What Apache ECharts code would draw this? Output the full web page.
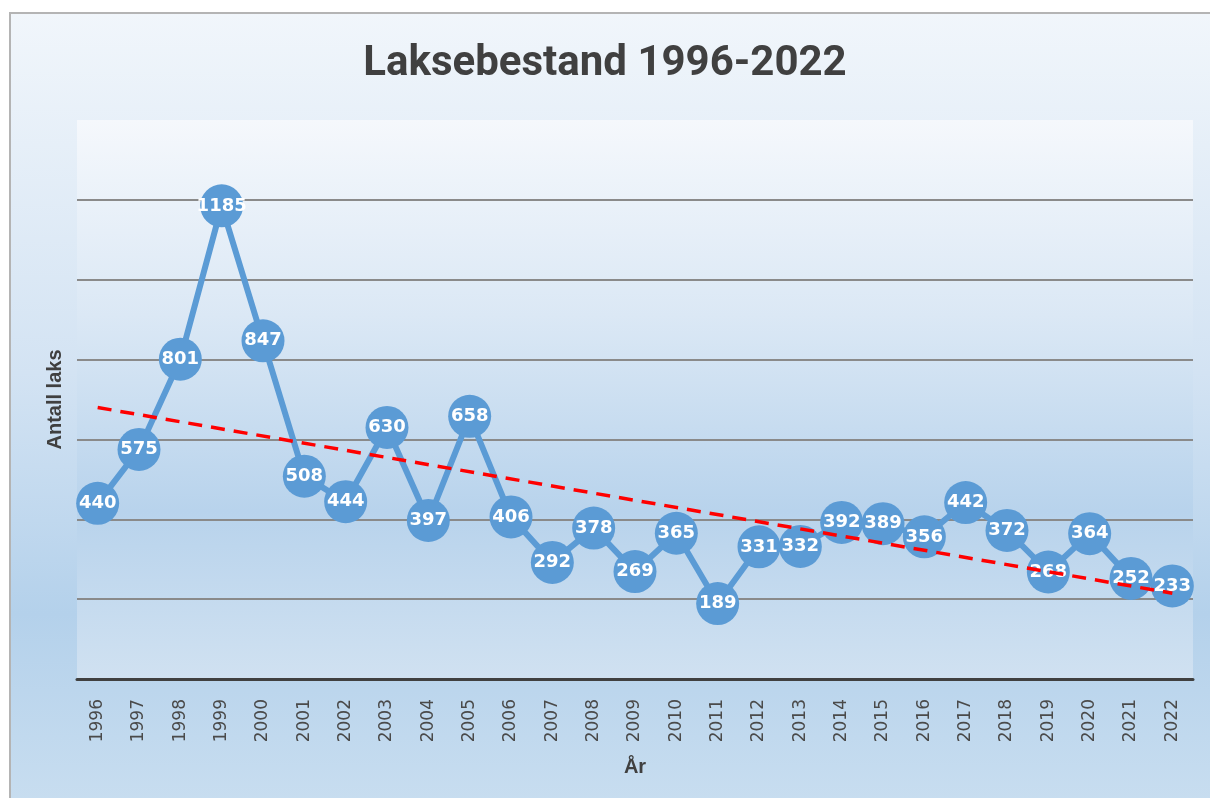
<!DOCTYPE html>
<html>
<head>
<meta charset="utf-8">
<script src="https://cdn.jsdelivr.net/npm/echarts@6/dist/echarts.min.js"></script>
<style>
  html, body { margin: 0; padding: 0; background: #fff; }
  #chart { width: 1210px; height: 798px; }
</style>
</head>
<body>
<div id="chart"></div>
<script>
// Data
const years = ['1996', '1997', '1998', '1999', '2000', '2001', '2002', '2003', '2004',
    '2005', '2006', '2007', '2008', '2009', '2010', '2011', '2012', '2013', '2014',
    '2015', '2016', '2017', '2018', '2019', '2020', '2021', '2022'];
const antallLaks = [440, 575, 801, 1185, 847, 508, 444, 630, 397, 658, 406, 292, 378,
    269, 365, 189, 331, 332, 392, 389, 356, 442, 372, 268, 364, 252, 233];
// trend line end points (first and last year)
const trendStart = 680;
const trendEnd = 215;

let trendData = years.map(function () { return null; });
trendData[0] = trendStart;
trendData[years.length - 1] = trendEnd;

const chart = echarts.init(document.getElementById('chart'));

let option = {
    animation: false,
    backgroundColor: '#ffffff',
    graphic: [
        {
            type: 'rect',
            z: -10,
            shape: { x: 10, y: 13, width: 1210, height: 800 },
            style: {
                fill: new echarts.graphic.LinearGradient(0, 0, 0, 1, [
                    { offset: 0, color: '#f1f6fb' },
                    { offset: 0.45, color: '#d3e3f3' },
                    { offset: 0.75, color: '#b4d1eb' },
                    { offset: 1, color: '#c9def0' }
                ]),
                stroke: '#b4b4b4',
                lineWidth: 2
            }
        }
    ],
    title: {
        text: 'Laksebestand 1996-2022',
        left: 'center',
        top: 38,
        textStyle: {
            fontFamily: 'Roboto',
            fontWeight: 'bold',
            fontSize: 42,
            color: '#404040'
        }
    },
    grid: {
        left: 77,
        right: 17,
        top: 120,
        bottom: 119,
        show: true,
        borderWidth: 0,
        backgroundColor: new echarts.graphic.LinearGradient(0, 0, 0, 1, [
            { offset: 0, color: '#f5f8fc' },
            { offset: 0.35, color: '#dbe8f5' },
            { offset: 0.7, color: '#b8d3ec' },
            { offset: 1, color: '#d0e1f1' }
        ])
    },
    xAxis: {
        type: 'category',
        data: years,
        name: 'År',
        nameLocation: 'middle',
        nameGap: 78,
        nameTextStyle: {
            fontFamily: 'Liberation Sans',
            fontWeight: 'bold',
            fontSize: 20,
            color: '#404040'
        },
        axisTick: { show: false },
        axisLine: { lineStyle: { color: '#404040', width: 3 } },
        axisLabel: {
            rotate: 90,
            margin: 20,
            fontFamily: 'DejaVu Sans',
            fontSize: 17,
            color: '#4a4a4a'
        }
    },
    yAxis: {
        type: 'value',
        min: 0,
        max: 1400,
        interval: 200,
        name: 'Antall laks',
        nameLocation: 'middle',
        nameGap: 12,
        nameTextStyle: {
            fontFamily: 'Liberation Sans',
            fontWeight: 'bold',
            fontSize: 20,
            color: '#404040'
        },
        axisLabel: { show: false },
        axisLine: { show: false },
        axisTick: { show: false },
        splitLine: { showMaxLine: false, lineStyle: { color: '#8a8a8a', width: 2 } }
    },
    series: [
        {
            name: 'Antall laks',
            type: 'line',
            data: antallLaks,
            z: 2,
            symbol: 'circle',
            symbolSize: 43,
            itemStyle: { color: '#5b9bd5' },
            lineStyle: { color: '#5b9bd5', width: 6 },
            label: {
                show: true,
                position: 'inside',
                color: '#ffffff',
                fontFamily: 'DejaVu Sans',
                fontWeight: 'bold',
                fontSize: 18
            }
        },
        {
            name: 'Trend',
            type: 'line',
            data: trendData,
            z: 10,
            connectNulls: true,
            symbol: 'none',
            lineStyle: { color: '#ff0000', width: 3.5, type: [14, 9] }
        }
    ]
};

chart.setOption(option);

window.addEventListener('resize', function () {
    chart.resize();
});
</script>
</body>
</html>
